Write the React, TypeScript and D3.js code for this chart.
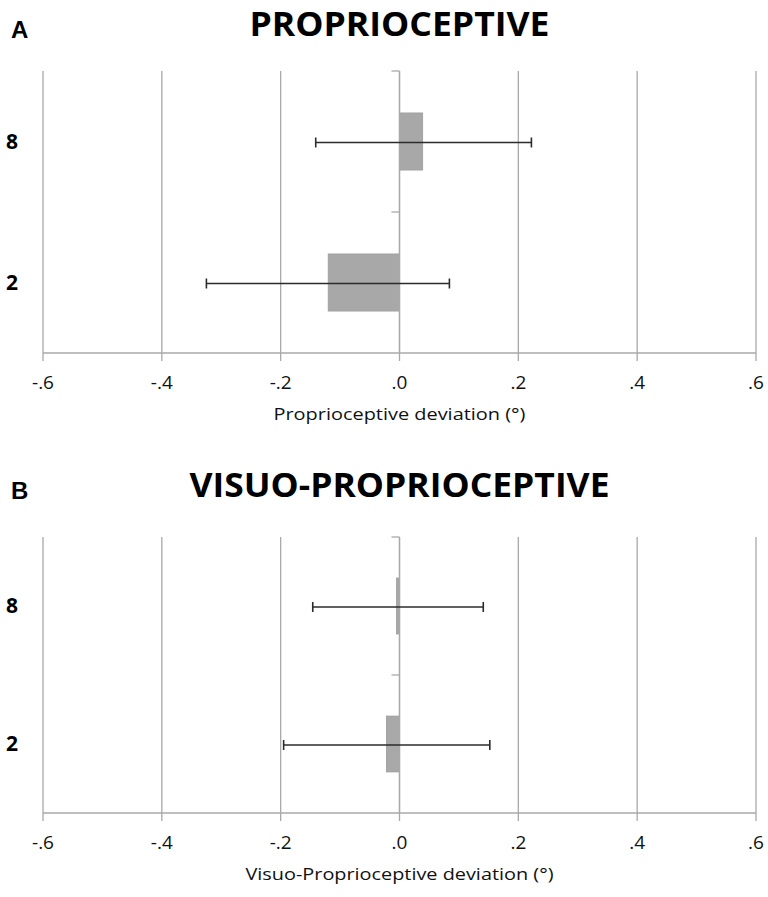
import React from 'react'
import * as d3 from 'd3'

const categories = ['8', '2']
const xTicks = [-0.6, -0.4, -0.2, 0, 0.2, 0.4, 0.6]

// panel A
const propMeans = [0.039, -0.12]
const propLow = [-0.141, -0.325]
const propHigh = [0.222, 0.084]

// panel B
const visMeans = [-0.005, -0.022]
const visLow = [-0.146, -0.195]
const visHigh = [0.141, 0.152]

const W = 768
const H = 897
const FONT = "'Open Sans', 'Noto Sans', sans-serif"
const GRID = '#a9a9a9'

const fmt = (v: number) => {
    if (Math.abs(v) < 1e-9) return '.0'
    const s = Math.abs(v).toFixed(1).replace(/^0/, '')
    return v < 0 ? '-' + s : s
}

type PanelProps = {
    letter: string
    title: string
    titleWidth: number
    axisTitle: string
    axisTitleWidth: number
    means: number[]
    low: number[]
    high: number[]
    top: number
    bottom: number
    titleY: number
}

const Panel = ({
    letter,
    title,
    titleWidth,
    axisTitle,
    axisTitleWidth,
    means,
    low,
    high,
    top,
    bottom,
    titleY,
}: PanelProps) => {
    const x = d3.scaleLinear().domain([-0.6, 0.6]).range([43, 756])
    const y = d3.scaleBand<string>().domain(categories).range([top, bottom])
    const bw = y.bandwidth()
    const barH = bw * 0.405
    const x0 = x(0)

    return (
        <g>
            <text x={11} y={titleY + 2} fontFamily="'Liberation Sans', Arial, sans-serif" fontWeight="bold" fontSize={24}>
                {letter}
            </text>
            <text
                x={x0}
                y={titleY}
                textAnchor="middle"
                fontFamily={FONT}
                fontWeight="bold"
                fontSize={34}
                textLength={titleWidth}
                lengthAdjust="spacingAndGlyphs"
            >
                {title}
            </text>

            {/* vertical gridlines */}
            {xTicks.map(t => (
                <line key={t} x1={x(t)} x2={x(t)} y1={top} y2={bottom + 8} stroke={GRID} strokeWidth={1.3} />
            ))}
            {/* x axis */}
            <line x1={x(-0.6)} x2={x(0.6)} y1={bottom} y2={bottom} stroke={GRID} strokeWidth={1.3} />
            {xTicks.map(t => (
                <text key={'l' + t} x={x(t)} y={bottom + 36} textAnchor="middle" fontFamily={FONT} fontSize={19} fill="#111">
                    {fmt(t)}
                </text>
            ))}
            <text
                x={x0}
                y={bottom + 67}
                textAnchor="middle"
                fontFamily={FONT}
                fontSize={16.5}
                fill="#111"
                textLength={axisTitleWidth}
                lengthAdjust="spacingAndGlyphs"
            >
                {axisTitle}
            </text>

            {/* category axis at 0 with ticks at band edges */}
            {[top, top + bw].map(v => (
                <line key={v} x1={x0 - 8} x2={x0} y1={v} y2={v} stroke={GRID} strokeWidth={1.3} />
            ))}
            {categories.map(c => (
                <text
                    key={c}
                    x={12}
                    y={(y(c) ?? 0) + bw / 2 + 7}
                    textAnchor="middle"
                    fontFamily={FONT}
                    fontWeight="bold"
                    fontSize={21}
                >
                    {c}
                </text>
            ))}

            {/* bars */}
            {categories.map((c, i) => {
                const cy = (y(c) ?? 0) + bw / 2
                const xa = x(Math.min(0, means[i]))
                const xb = x(Math.max(0, means[i]))
                return (
                    <rect
                        key={'b' + c}
                        x={xa}
                        y={cy - barH / 2}
                        width={Math.max(2, xb - xa)}
                        height={barH}
                        fill="#a8a8a8"
                        stroke="#9c9c9c"
                        strokeWidth={0.8}
                    />
                )
            })}
            <line x1={x0} x2={x0} y1={top} y2={bottom} stroke={GRID} strokeWidth={1.3} />

            {/* error bars */}
            {categories.map((c, i) => {
                const cy = (y(c) ?? 0) + bw / 2 + 1
                return (
                    <g key={'e' + c} stroke="#2b2b2b" strokeWidth={1.6}>
                        <line x1={x(low[i])} x2={x(high[i])} y1={cy} y2={cy} />
                        <line x1={x(low[i])} x2={x(low[i])} y1={cy - 5} y2={cy + 5} />
                        <line x1={x(high[i])} x2={x(high[i])} y1={cy - 5} y2={cy + 5} />
                    </g>
                )
            })}
        </g>
    )
}

const App = () => {
    return (
        <svg
            width={W}
            height={H}
            viewBox={`0 0 ${W} ${H}`}
            style={{ position: 'absolute', left: 0, top: 0, background: '#fff' }}
        >
            <rect width={W} height={H} fill="#fff" />
            <Panel
                letter="A"
                title="PROPRIOCEPTIVE"
                titleWidth={300}
                axisTitle="Proprioceptive deviation (°)"
                axisTitleWidth={252}
                means={propMeans}
                low={propLow}
                high={propHigh}
                top={71}
                bottom={353}
                titleY={36}
            />
            <Panel
                letter="B"
                title="VISUO-PROPRIOCEPTIVE"
                titleWidth={420}
                axisTitle="Visuo-Proprioceptive deviation (°)"
                axisTitleWidth={308}
                means={visMeans}
                low={visLow}
                high={visHigh}
                top={537}
                bottom={813}
                titleY={497}
            />
        </svg>
    )
}

export default App
